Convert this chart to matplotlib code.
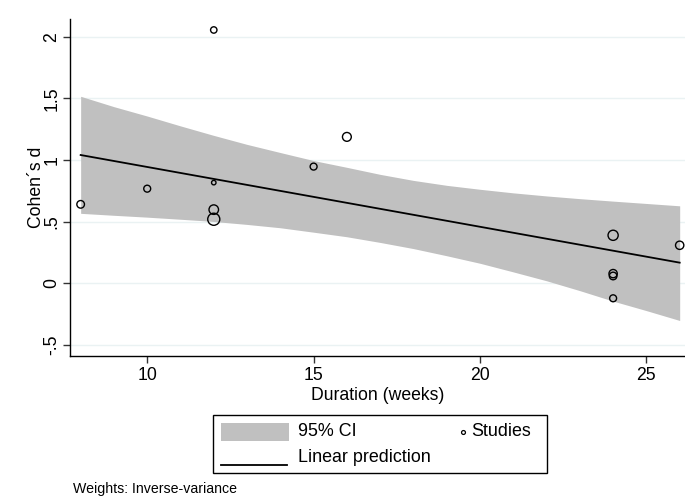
import matplotlib
matplotlib.use("Agg")
import matplotlib.pyplot as plt
from matplotlib.patches import Rectangle
from matplotlib.lines import Line2D

plt.rcParams['font.family'] = ['Liberation Sans', 'DejaVu Sans']

# ---- data ----
duration = [8, 10, 12, 12, 12, 12, 15, 16, 24, 24, 24, 24, 26]
cohen_d = [0.64, 0.767, 2.054, 0.816, 0.597, 0.519, 0.946, 1.187, 0.389, 0.078, 0.059, -0.122, 0.308]
weights = [64, 53, 45, 22, 100, 161, 53, 86, 114, 76, 64, 53, 76]

ci_x = [8, 9, 10, 11, 12, 13, 14, 15, 16, 17, 18, 19, 20, 21, 22, 23, 24, 25, 26]
ci_upper = [1.516, 1.432, 1.356, 1.276, 1.199, 1.126, 1.060, 0.995, 0.940, 0.883,
            0.834, 0.794, 0.762, 0.733, 0.708, 0.686, 0.666, 0.647, 0.628]
ci_lower = [0.567, 0.551, 0.536, 0.519, 0.501, 0.477, 0.450, 0.414, 0.377, 0.331,
            0.281, 0.223, 0.162, 0.092, 0.020, -0.060, -0.145, -0.222, -0.302]

pred_x = [8, 26]
pred_y = [1.04, 0.167]

yticks = [-0.5, 0, 0.5, 1, 1.5, 2]
ytick_labels = ["-.5", "0", ".5", "1", "1.5", "2"]
xticks = [10, 15, 20, 25]
xtick_labels = ["10", "15", "20", "25"]

W, H = 685, 499
fig = plt.figure(figsize=(W / 100, H / 100), dpi=100)
fig.patch.set_facecolor('white')

def fx(px):
    return px / W

def fy(py):
    return 1 - py / H

ax = fig.add_axes([fx(70), fy(356), fx(685) - fx(70), fy(19) - fy(356)])
ax.set_xlim(7.68, 26.16)
ax.set_ylim(-0.59, 2.143)

for yt in yticks:
    ax.axhline(yt, color='#eaf2f3', lw=1.0, zorder=0)

band_color = '#c0c0c0'
ax.fill_between(ci_x, ci_lower, ci_upper, color=band_color, lw=0, zorder=1)
ax.plot(pred_x, pred_y, color='black', lw=1.3, zorder=2)
ax.scatter(duration, cohen_d, s=[w * 0.47 for w in weights], facecolors='none',
           edgecolors='black', linewidths=1.0, zorder=3)

for side in ['top', 'right']:
    ax.spines[side].set_visible(False)
for side in ['left', 'bottom']:
    ax.spines[side].set_linewidth(1.0)
    ax.spines[side].set_color('black')

ax.set_yticks(yticks)
ax.set_yticklabels(ytick_labels, rotation=90, va='center')
ax.set_xticks(xticks)
ax.set_xticklabels(xtick_labels)
ax.tick_params(axis='both', length=5, width=1.0, color='#333333', labelsize=12.7)
ax.tick_params(axis='y', pad=2)
ax.tick_params(axis='x', pad=3)

ax.set_xlabel("Duration (weeks)", fontsize=12.7, labelpad=2)
ax.set_ylabel("Cohen´s d", fontsize=12.7, labelpad=-1)

# ---- legend (drawn manually to follow the Stata layout) ----
fs_leg = 12.9
fig.patches.append(Rectangle((fx(213), fy(473)), fx(547) - fx(213), fy(415) - fy(473),
                             transform=fig.transFigure, facecolor='white',
                             edgecolor='black', lw=1.0))
fig.patches.append(Rectangle((fx(221), fy(441)), fx(289) - fx(221), fy(423) - fy(441),
                             transform=fig.transFigure, facecolor=band_color, lw=0))
fig.text(fx(298), fy(432), "95% CI", fontsize=fs_leg, va='center', ha='left')
fig.lines.append(Line2D([fx(221), fx(287)], [fy(465), fy(465)], transform=fig.transFigure,
                        color='black', lw=1.3))
fig.text(fx(298), fy(458), "Linear prediction", fontsize=fs_leg, va='center', ha='left')
fig.lines.append(Line2D([fx(463)], [fy(432)], transform=fig.transFigure, marker='o',
                        markersize=2.8, markerfacecolor='none', markeredgecolor='black',
                        markeredgewidth=0.9, linestyle='none'))
fig.text(fx(471), fy(432), "Studies", fontsize=fs_leg, va='center', ha='left')

fig.text(fx(73), fy(489), "Weights: Inverse-variance", fontsize=10.2, va='center', ha='left')

fig.savefig("out.png", dpi=100, facecolor='white')
